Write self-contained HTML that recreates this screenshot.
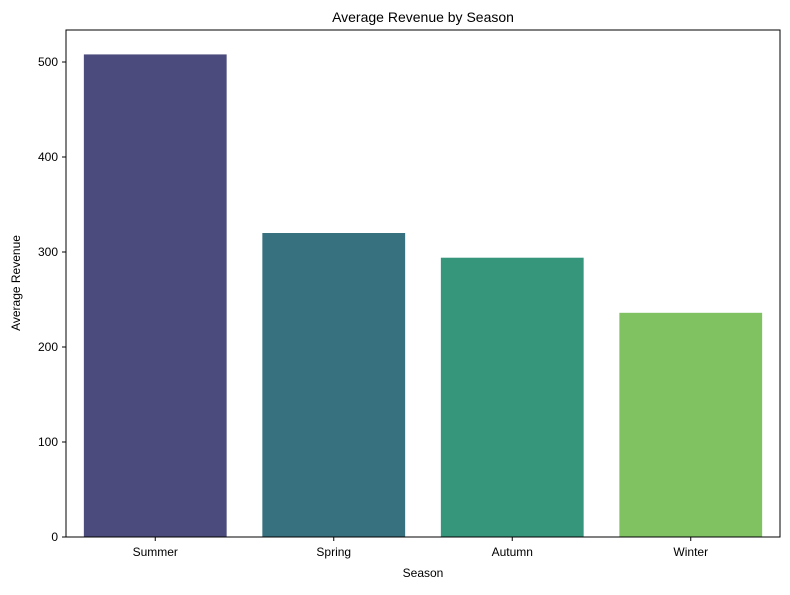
<!DOCTYPE html>
<html><head><meta charset="utf-8"><style>
body{margin:0;background:#fff;}
svg text{font-family:"Liberation Sans","DejaVu Sans",sans-serif;fill:#000;}
</style></head><body>
<svg id="chart" width="790" height="590" xmlns="http://www.w3.org/2000/svg">
<rect width="790" height="590" fill="#fff"/>
<text x="423" y="22" font-size="14" text-anchor="middle">Average Revenue by Season</text>
<text x="423" y="577" font-size="12" text-anchor="middle">Season</text>
<text transform="translate(20,283) rotate(-90)" font-size="12" text-anchor="middle">Average Revenue</text>
<g id="bars"></g><g id="axes"></g>
<rect x="66" y="30" width="714" height="507" fill="none" stroke="#000" stroke-width="1"/>
</svg>
<script>
const categories=["Summer","Spring","Autumn","Winter"];
const values=[508,320,294,236];
const colors=["#4b4c7d","#37717f","#35967c","#80c262"];
const yTicks=[0,100,200,300,400,500];
const L=66,R=780,T=30,B=537,yMax=533.7;
const y=v=>B-(v/yMax)*(B-T);
const band=(R-L)/categories.length;
const x=i=>L+band*i;
const ns="http://www.w3.org/2000/svg";
const bars=document.getElementById('bars'),axes=document.getElementById('axes');
function mk(t,a,p){const e=document.createElementNS(ns,t);for(const k in a)e.setAttribute(k,a[k]);p.appendChild(e);return e;}
categories.forEach((c,i)=>{
 const r=mk('rect',{x:x(i)+band*0.1,y:y(values[i]),width:band*0.8,height:B-y(values[i]),fill:colors[i]},bars);
 
 
 const cx=x(i)+band/2;
 mk('line',{x1:cx,x2:cx,y1:B,y2:B+4,stroke:'#000'},axes);
 const t=mk('text',{x:cx,y:B+19,'font-size':12,'text-anchor':'middle'},axes);
 t.textContent=c;
 
 
});
yTicks.forEach(v=>{
 mk('line',{x1:L-4,x2:L,y1:y(v),y2:y(v),stroke:'#000'},axes);
 const t=mk('text',{x:L-8,y:y(v)+4,'font-size':12,'text-anchor':'end'},axes);
 t.textContent=v;
 
 
});
</script>
</body></html>
